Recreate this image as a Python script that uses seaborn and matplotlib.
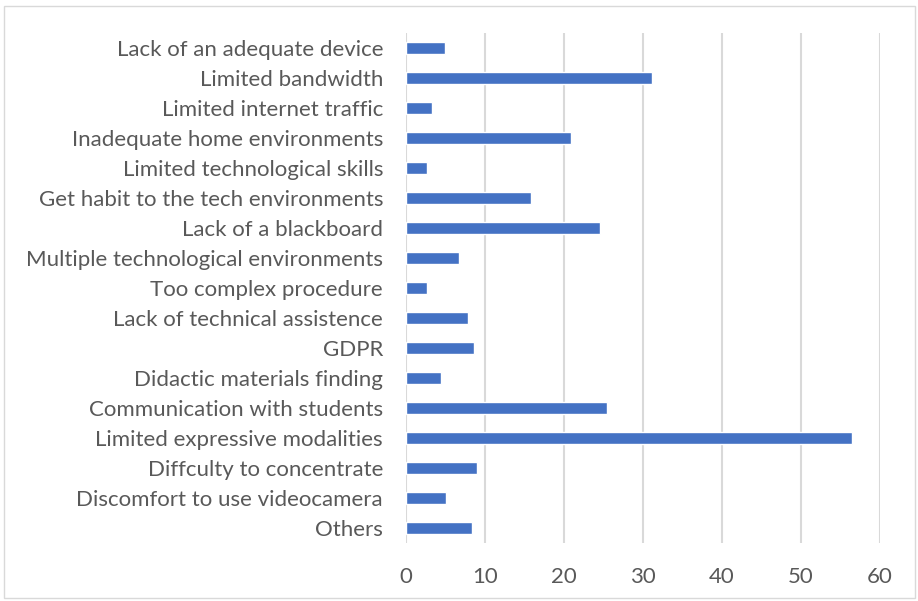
import matplotlib
matplotlib.use("Agg")
import matplotlib.pyplot as plt
import seaborn as sns
import pandas as pd
from matplotlib.patches import Rectangle

categories = [
    "Lack of an adequate device",
    "Limited bandwidth",
    "Limited internet traffic",
    "Inadequate home environments",
    "Limited technological skills",
    "Get habit to the tech environments",
    "Lack of a blackboard",
    "Multiple technological environments",
    "Too complex procedure",
    "Lack of technical assistence",
    "GDPR",
    "Didactic materials finding",
    "Communication with students",
    "Limited expressive modalities",
    "Diffculty to concentrate",
    "Discomfort to use videocamera",
    "Others",
]
values = [4.9, 31.1, 3.3, 20.9, 2.6, 15.8, 24.5, 6.7, 2.6, 7.9, 8.6, 4.4, 25.4, 56.5, 9.0, 5.1, 8.4]
x_ticks = [0, 10, 20, 30, 40, 50, 60]

df = pd.DataFrame({"category": categories, "value": values})

sns.set_theme(style="white")
plt.rcParams["font.family"] = ["Lato", "DejaVu Sans"]

fig = plt.figure(figsize=(9.18, 6.01), dpi=100)
ax = fig.add_axes([406 / 918, 1 - 543 / 601, (880 - 406) / 918, (543 - 33) / 601])

sns.barplot(data=df, x="value", y="category", orient="h", color="#4472C4",
            width=0.37, saturation=1, ax=ax)

ax.set_xlim(0, 60)
ax.set_ylim(len(categories) - 0.5, -0.5)
ax.set_xticks(x_ticks)
ax.set_xticklabels([str(t) for t in x_ticks])
ax.grid(axis="x", color="#d9d9d9", linewidth=1.5)
ax.grid(axis="y", visible=False)
ax.set_axisbelow(True)
for s in ax.spines.values():
    s.set_visible(False)
ax.set_xlabel("")
ax.set_ylabel("")
ax.tick_params(axis="both", length=0, labelsize=16, colors="#595959")
ax.tick_params(axis="x", pad=17)
ax.tick_params(axis="y", pad=16.5)

fig.patches.append(Rectangle((4 / 918, 3 / 601), 911 / 918, 592 / 601,
                             transform=fig.transFigure, fill=False,
                             edgecolor="#d9d9d9", linewidth=1))

fig.savefig("out.png", dpi=100)
